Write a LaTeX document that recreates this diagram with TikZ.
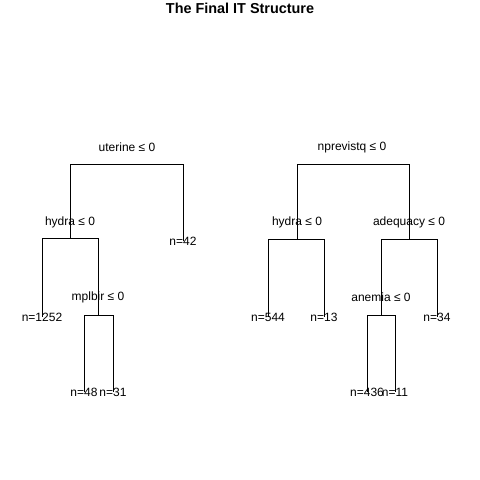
\documentclass[tikz,border=0pt]{standalone}
\usepackage{fontspec}
\setmainfont{Liberation Sans}
\usetikzlibrary{positioning}
\tikzset{
    % Split label style
    split label/.style={
        font=\fontsize{12}{14}\selectfont,
        inner sep=0pt,
        text=black
    },
    % Leaf count style
    leaf/.style={
        font=\fontsize{12}{14}\selectfont,
        inner sep=0pt,
        text=black
    },
    % Branch lines
    branch/.style={
        line width=0.8pt,
        draw=black
    },
    % Title style
    tree title/.style={
        font=\fontsize{14.4}{17}\selectfont\bfseries,
        text=black
    }
}

\begin{document}
\begin{tikzpicture}[x=1pt, y=-1pt]
        \fill[white] (0,0) rectangle (480,480);
        \useasboundingbox (0,0) rectangle (480,480);

        % Title
        \node[tree title] (title) at (240,8) {The Final IT Structure};

        % Left tree
        \coordinate (uterine) at (127,164);
        \coordinate (hydraA) at (70,238);
        \coordinate (mplbir) at (98,315);
        \node[split label] (uterinelab) at (127,147) {uterine ≤ 0};
        \node[split label] (hydraAlab) at (70,222) {hydra ≤ 0};
        \node[split label] (mplbirlab) at (98,297) {mplbir ≤ 0};
        \node[leaf] (n42) at (183,241) {n=42};
        \node[leaf] (n1252) at (42,317) {n=1252};
        \node[leaf] (n48) at (84,392) {n=48};
        \node[leaf] (n31) at (113,392) {n=31};

        % Right tree
        \coordinate (nprevistq) at (352,164);
        \coordinate (hydraB) at (297,239);
        \coordinate (adequacy) at (409,239);
        \coordinate (anemia) at (381,315);
        \node[split label] (nprevistqlab) at (352,147) {nprevistq ≤ 0};
        \node[split label] (hydraBlab) at (297,222) {hydra ≤ 0};
        \node[split label] (adequacylab) at (409,222) {adequacy ≤ 0};
        \node[split label] (anemialab) at (381,297) {anemia ≤ 0};
        \node[leaf] (n544) at (268,317) {n=544};
        \node[leaf] (n13) at (324,317) {n=13};
        \node[leaf] (n34) at (437,317) {n=34};
        \node[leaf] (n436) at (367,392) {n=436};
        \node[leaf] (n11) at (395,392) {n=11};

        % Branches
        \draw[branch] (uterine) -| (hydraA);
        \draw[branch] (uterine) -| (n42.center);
        \draw[branch] (hydraA) -| (n1252.center);
        \draw[branch] (hydraA) -| (mplbir);
        \draw[branch] (mplbir) -| (n48.center);
        \draw[branch] (mplbir) -| (n31.center);

        \draw[branch] (nprevistq) -| (hydraB);
        \draw[branch] (nprevistq) -| (adequacy);
        \draw[branch] (hydraB) -| (n544.center);
        \draw[branch] (hydraB) -| (n13.center);
        \draw[branch] (adequacy) -| (anemia);
        \draw[branch] (adequacy) -| (n34.center);
        \draw[branch] (anemia) -| (n436.center);
        \draw[branch] (anemia) -| (n11.center);

    \end{tikzpicture}
\end{document}
